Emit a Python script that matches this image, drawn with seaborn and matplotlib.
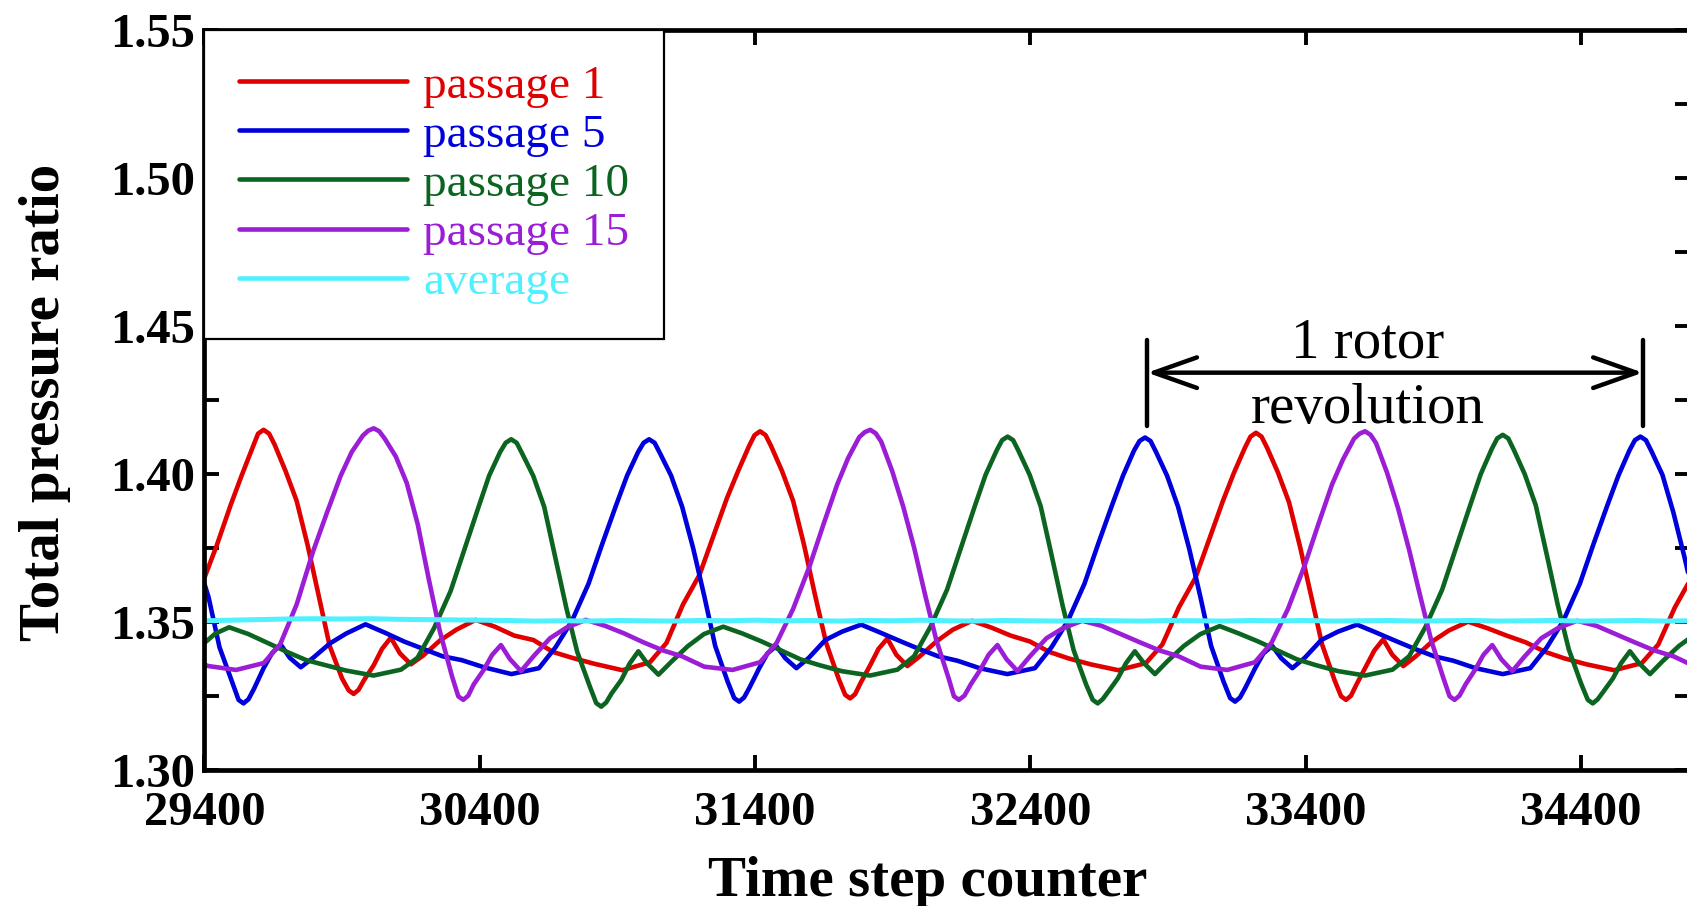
import numpy as np
import pandas as pd
import matplotlib
matplotlib.use("Agg")
import matplotlib.pyplot as plt
import seaborn as sns

# ---------------- data ----------------
p1_step = [29400, 29445, 29495, 29535, 29575, 29595, 29615, 29635, 29655, 29695, 29735, 29775,
           29815, 29855, 29900, 29924, 29942, 29960, 29980, 30015, 30045, 30077, 30110, 30150,
           30195, 30255, 30315, 30385, 30455, 30525, 30595, 30665, 30735, 30815,
           30918, 31018, 31078, 31138, 31198, 31248, 31298, 31338, 31378, 31398, 31418, 31438,
           31458, 31498, 31538, 31578, 31618, 31658, 31703, 31727, 31745, 31763, 31783, 31818,
           31848, 31880, 31913, 31953, 31998, 32058, 32118, 32188, 32258, 32328,
           32398, 32468, 32538, 32618,
           32719, 32819, 32879, 32939, 32999, 33049, 33099, 33139, 33179, 33199, 33219, 33239,
           33259, 33299, 33339, 33379, 33419, 33459, 33504, 33528, 33546, 33564, 33584, 33619,
           33649, 33681, 33714, 33754, 33799, 33859, 33919, 33989, 34059, 34129,
           34199, 34269, 34339, 34419,
           34520, 34620, 34680, 34740, 34800]
p1_ratio = [1.3650, 1.3760, 1.3895, 1.3995, 1.4090, 1.4137, 1.4150, 1.4137, 1.4100, 1.4010, 1.3910, 1.3760,
            1.3590, 1.3420, 1.3310, 1.3270, 1.3258, 1.3272, 1.3305, 1.3355, 1.3410, 1.3448, 1.3395, 1.3358,
            1.3388, 1.3438, 1.3475, 1.3508, 1.3485, 1.3455, 1.3440, 1.3400, 1.3380, 1.3360,
            1.3338, 1.3365, 1.3430, 1.3560, 1.3660, 1.3790, 1.3920, 1.4010, 1.4095, 1.4132, 1.4145, 1.4132,
            1.4095, 1.4010, 1.3910, 1.3760, 1.3590, 1.3430, 1.3310, 1.3255, 1.3243, 1.3257, 1.3295, 1.3355,
            1.3410, 1.3445, 1.3390, 1.3352, 1.3385, 1.3435, 1.3475, 1.3505, 1.3482, 1.3455,
            1.3435, 1.3400, 1.3378, 1.3358,
            1.3338, 1.3362, 1.3425, 1.3550, 1.3650, 1.3780, 1.3910, 1.4005, 1.4090, 1.4127, 1.4140, 1.4127,
            1.4090, 1.4005, 1.3905, 1.3755, 1.3590, 1.3425, 1.3305, 1.3250, 1.3238, 1.3252, 1.3290, 1.3352,
            1.3405, 1.3442, 1.3390, 1.3352, 1.3385, 1.3435, 1.3472, 1.3502, 1.3480, 1.3455,
            1.3432, 1.3400, 1.3378, 1.3358,
            1.3338, 1.3362, 1.3425, 1.3550, 1.3650]

p5_step = [29400, 29415, 29455, 29500, 29524, 29542, 29560, 29580, 29615, 29645, 29677, 29710,
           29750, 29795, 29855, 29915, 29985, 30055, 30125, 30195, 30265, 30335, 30415,
           30515, 30615, 30675, 30735, 30795, 30845, 30895, 30935, 30975, 30995, 31015, 31035,
           31055, 31095, 31135, 31175, 31215, 31255, 31300, 31324, 31342, 31360, 31380, 31415,
           31445, 31477, 31510, 31550, 31595, 31655, 31715, 31785, 31855, 31925,
           31995, 32065, 32135, 32215,
           32316, 32416, 32476, 32536, 32596, 32646, 32696, 32736, 32776, 32796, 32816, 32836,
           32856, 32896, 32936, 32976, 33016, 33056, 33101, 33125, 33143, 33161, 33181, 33216,
           33246, 33278, 33311, 33351, 33396, 33456, 33516, 33586, 33656, 33726,
           33796, 33866, 33936, 34016,
           34115, 34215, 34275, 34335, 34395, 34445, 34495, 34535, 34575, 34595, 34615, 34635,
           34655, 34695, 34735, 34775, 34815]
p5_ratio = [1.3630, 1.3585, 1.3415, 1.3300, 1.3238, 1.3226, 1.3240, 1.3275, 1.3345, 1.3395, 1.3425, 1.3380,
            1.3348, 1.3380, 1.3428, 1.3462, 1.3493, 1.3465, 1.3435, 1.3410, 1.3385, 1.3372, 1.3348,
            1.3325, 1.3345, 1.3415, 1.3505, 1.3630, 1.3765, 1.3895, 1.3995, 1.4075, 1.4106, 1.4118, 1.4106,
            1.4070, 1.3995, 1.3890, 1.3750, 1.3590, 1.3420, 1.3300, 1.3244, 1.3232, 1.3246, 1.3280, 1.3345,
            1.3395, 1.3420, 1.3378, 1.3345, 1.3380, 1.3440, 1.3468, 1.3492, 1.3465, 1.3437,
            1.3410, 1.3385, 1.3370, 1.3345,
            1.3325, 1.3345, 1.3415, 1.3505, 1.3630, 1.3765, 1.3895, 1.3995, 1.4080, 1.4112, 1.4124, 1.4112,
            1.4075, 1.3995, 1.3890, 1.3750, 1.3590, 1.3420, 1.3300, 1.3244, 1.3232, 1.3246, 1.3280, 1.3345,
            1.3395, 1.3420, 1.3378, 1.3345, 1.3380, 1.3440, 1.3468, 1.3492, 1.3465, 1.3437,
            1.3410, 1.3385, 1.3370, 1.3345,
            1.3325, 1.3345, 1.3415, 1.3505, 1.3630, 1.3765, 1.3895, 1.3995, 1.4080, 1.4115, 1.4127, 1.4115,
            1.4078, 1.3998, 1.3870, 1.3720, 1.3560]

p10_step = [29400, 29440, 29490, 29560, 29630, 29700, 29770, 29840, 29914,
            30014, 30114, 30174, 30234, 30294, 30344, 30394, 30434, 30474, 30494, 30514, 30534,
            30554, 30594, 30634, 30674, 30714, 30754, 30799, 30823, 30841, 30859, 30879, 30914,
            30944, 30976, 31009, 31049, 31094, 31154, 31214, 31284, 31354, 31424,
            31494, 31564, 31634, 31714,
            31817, 31917, 31977, 32037, 32097, 32147, 32197, 32237, 32277, 32297, 32317, 32337,
            32357, 32397, 32437, 32477, 32517, 32557, 32602, 32626, 32644, 32662, 32682, 32717,
            32747, 32779, 32812, 32852, 32897, 32957, 33017, 33087, 33157, 33227,
            33297, 33367, 33437, 33517,
            33615, 33715, 33775, 33835, 33895, 33945, 33995, 34035, 34075, 34095, 34115, 34135,
            34155, 34195, 34235, 34275, 34315, 34355, 34400, 34424, 34442, 34460, 34480, 34515,
            34545, 34577, 34610, 34650, 34695, 34755, 34815]
p10_ratio = [1.3430, 1.3462, 1.3483, 1.3460, 1.3430, 1.3400, 1.3372, 1.3355, 1.3337,
             1.3320, 1.3340, 1.3380, 1.3480, 1.3605, 1.3745, 1.3885, 1.3995, 1.4075, 1.4106, 1.4118, 1.4106,
             1.4070, 1.3995, 1.3890, 1.3720, 1.3550, 1.3400, 1.3285, 1.3227, 1.3215, 1.3229, 1.3260, 1.3305,
             1.3360, 1.3402, 1.3360, 1.3323, 1.3365, 1.3418, 1.3460, 1.3485, 1.3462, 1.3435,
             1.3405, 1.3375, 1.3355, 1.3335,
             1.3320, 1.3340, 1.3385, 1.3485, 1.3610, 1.3750, 1.3890, 1.3998, 1.4080, 1.4115, 1.4127, 1.4115,
             1.4078, 1.3998, 1.3892, 1.3725, 1.3555, 1.3405, 1.3290, 1.3238, 1.3226, 1.3240, 1.3265, 1.3310,
             1.3362, 1.3402, 1.3362, 1.3325, 1.3368, 1.3420, 1.3460, 1.3487, 1.3462, 1.3435,
             1.3405, 1.3375, 1.3355, 1.3335,
             1.3320, 1.3340, 1.3385, 1.3485, 1.3610, 1.3750, 1.3890, 1.4000, 1.4085, 1.4121, 1.4133, 1.4121,
             1.4083, 1.4000, 1.3895, 1.3728, 1.3558, 1.3408, 1.3292, 1.3238, 1.3226, 1.3240, 1.3265, 1.3310,
             1.3362, 1.3402, 1.3362, 1.3325, 1.3368, 1.3420, 1.3460]

p15_step = [29400, 29415,
            29515, 29615, 29675, 29735, 29795, 29845, 29895, 29935, 29975, 29995, 30015, 30035,
            30055, 30095, 30135, 30175, 30215, 30255, 30300, 30322, 30340, 30358, 30378, 30415,
            30445, 30477, 30510, 30550, 30595, 30655, 30715, 30785, 30855, 30925,
            30995, 31065, 31135, 31215,
            31318, 31418, 31478, 31538, 31598, 31648, 31698, 31738, 31778, 31798, 31818, 31838,
            31858, 31898, 31938, 31978, 32018, 32058, 32103, 32122, 32140, 32160, 32183, 32218,
            32248, 32280, 32313, 32353, 32398, 32458, 32518, 32588, 32658, 32728,
            32798, 32868, 32938, 33018,
            33115, 33215, 33275, 33335, 33395, 33445, 33495, 33535, 33575, 33595, 33615, 33635,
            33655, 33695, 33735, 33775, 33815, 33855, 33900, 33922, 33940, 33958, 33980, 34015,
            34045, 34077, 34110, 34150, 34195, 34255, 34315, 34385, 34455, 34525,
            34595, 34665, 34735, 34815]
p15_ratio = [1.3356, 1.3352,
             1.3339, 1.3362, 1.3425, 1.3560, 1.3740, 1.3870, 1.3995, 1.4075, 1.4130, 1.4147, 1.4155, 1.4145,
             1.4120, 1.4060, 1.3970, 1.3830, 1.3645, 1.3470, 1.3315, 1.3250, 1.3238, 1.3252, 1.3290, 1.3340,
             1.3390, 1.3423, 1.3375, 1.3335, 1.3385, 1.3446, 1.3482, 1.3508, 1.3488, 1.3462,
             1.3432, 1.3405, 1.3385, 1.3350,
             1.3339, 1.3365, 1.3430, 1.3545, 1.3690, 1.3830, 1.3965, 1.4055, 1.4125, 1.4142, 1.4150, 1.4138,
             1.4110, 1.4010, 1.3890, 1.3750, 1.3590, 1.3440, 1.3310, 1.3250, 1.3238, 1.3252, 1.3290, 1.3340,
             1.3390, 1.3423, 1.3375, 1.3335, 1.3385, 1.3446, 1.3480, 1.3505, 1.3488, 1.3460,
             1.3432, 1.3405, 1.3385, 1.3350,
             1.3339, 1.3365, 1.3430, 1.3545, 1.3690, 1.3830, 1.3965, 1.4050, 1.4120, 1.4137, 1.4145, 1.4133,
             1.4105, 1.4005, 1.3885, 1.3745, 1.3590, 1.3440, 1.3310, 1.3250, 1.3238, 1.3252, 1.3290, 1.3340,
             1.3390, 1.3423, 1.3375, 1.3335, 1.3385, 1.3446, 1.3480, 1.3505, 1.3488, 1.3460,
             1.3432, 1.3405, 1.3385, 1.3350]

avg_step = list(range(29400, 34801, 100))
avg_ratio = [1.3505, 1.3507, 1.3509, 1.3511, 1.3512, 1.3511, 1.3512, 1.3510, 1.3509, 1.3508,
             1.3507, 1.3506, 1.3504, 1.3505, 1.3504, 1.3506, 1.3505, 1.3504, 1.3506, 1.3505,
             1.3507, 1.3505, 1.3506, 1.3504, 1.3506, 1.3505, 1.3507, 1.3505, 1.3504, 1.3506,
             1.3505, 1.3504, 1.3506, 1.3505, 1.3504, 1.3506, 1.3505, 1.3504, 1.3506, 1.3505,
             1.3506, 1.3504, 1.3505, 1.3506, 1.3504, 1.3505, 1.3506, 1.3504, 1.3505, 1.3506,
             1.3504, 1.3505, 1.3506, 1.3504, 1.3505]

series_names = ["passage 1", "passage 5", "passage 10", "passage 15", "average"]
series_colors = ["#e00000", "#0000dc", "#0b6420", "#9b1ed6", "#50f0ff"]

x_ticks = [29400, 30400, 31400, 32400, 33400, 34400]
x_tick_labels = ["29400", "30400", "31400", "32400", "33400", "34400"]
y_ticks = [1.300, 1.325, 1.350, 1.375, 1.400, 1.425, 1.450, 1.475, 1.500, 1.525, 1.550]
y_tick_labels = ["1.30", "", "1.35", "", "1.40", "", "1.45", "", "1.50", "", "1.55"]

rev_start, rev_end = 32824, 34624
rev_bar_lo, rev_bar_hi = 1.4162, 1.4453
rev_arrow_y = 1.4343
rev_text_x = 33625
rev_text = ["1 rotor", "revolution"]
rev_text_y = [1.4395, 1.4172]

# ---------------- build long-form table ----------------
frames = []
for name, xs, ys in zip(series_names,
                        [p1_step, p5_step, p10_step, p15_step, avg_step],
                        [p1_ratio, p5_ratio, p10_ratio, p15_ratio, avg_ratio]):
    frames.append(pd.DataFrame({"step": xs, "ratio": ys, "series": name}))
df = pd.concat(frames, ignore_index=True)

sns.set_style("ticks")
plt.rcParams['font.family'] = ['Liberation Serif', 'DejaVu Serif']
plt.rcParams.update({'text.color': 'black', 'axes.labelcolor': 'black',
                     'xtick.color': 'black', 'ytick.color': 'black',
                     'axes.edgecolor': 'black'})

fig = plt.figure(figsize=(16.87, 9.06), dpi=100)
ax = fig.add_axes([0.12116, 0.14978, 0.8806, 0.8170])

for name, col in zip(series_names, series_colors):
    sub = df[df["series"] == name]
    sns.lineplot(data=sub, x="step", y="ratio", ax=ax, color=col,
                 linewidth=3.6 if name == "average" else 3.3,
                 label=name, estimator=None, sort=False)

ax.set_xlim(29400, 34795)
ax.set_ylim(1.30, 1.55)
ax.set_xticks(x_ticks)
ax.set_xticklabels(x_tick_labels)
ax.set_yticks(y_ticks)
ax.set_yticklabels(y_tick_labels)
ax.tick_params(direction='in', length=11, width=2.8, top=True, right=True,
               labelsize=35, pad=7, colors='black')
ax.tick_params(axis='x', pad=15)
for lab in ax.get_xticklabels() + ax.get_yticklabels():
    lab.set_fontweight('bold')
for s in ax.spines.values():
    s.set_linewidth(3.4)
    s.set_color('black')

ax.set_xlabel("Time step counter", fontsize=41, fontweight='bold', color='black')
ax.xaxis.label.set_va('baseline')
ax.xaxis.set_label_coords(0.487, -0.170)
ax.set_ylabel("Total pressure ratio", fontsize=41, fontweight='bold', color='black')
ax.yaxis.label.set_va('baseline')
ax.yaxis.set_label_coords(-0.0976, 0.497)

# revolution annotation
ax.plot([rev_start, rev_start], [rev_bar_lo, rev_bar_hi], color='black', lw=3.2)
ax.plot([rev_end, rev_end], [rev_bar_lo, rev_bar_hi], color='black', lw=3.2)
ax.annotate('', xy=(rev_start, rev_arrow_y), xytext=(rev_end, rev_arrow_y),
            arrowprops=dict(arrowstyle='<->,head_length=3.1,head_width=1.1',
                            mutation_scale=10, lw=3.2, color='black',
                            shrinkA=0, shrinkB=0))
for txt, ty in zip(rev_text, rev_text_y):
    ax.text(rev_text_x, ty, txt, ha='center', va='baseline', fontsize=41, color='black')

leg = ax.legend(loc='upper left', bbox_to_anchor=(0, 1), borderaxespad=0,
                frameon=True, fancybox=False, edgecolor='black', framealpha=1,
                fontsize=34, handlelength=3.56, handletextpad=0.34,
                labelspacing=0.13, borderpad=0.73)
leg.get_frame().set_linewidth(1.6)
for t, c in zip(leg.get_texts(), series_colors):
    t.set_color(c)
for h in leg.get_lines():
    h.set_linewidth(3.3)

fig.savefig("out.png", dpi=100, facecolor='white')
